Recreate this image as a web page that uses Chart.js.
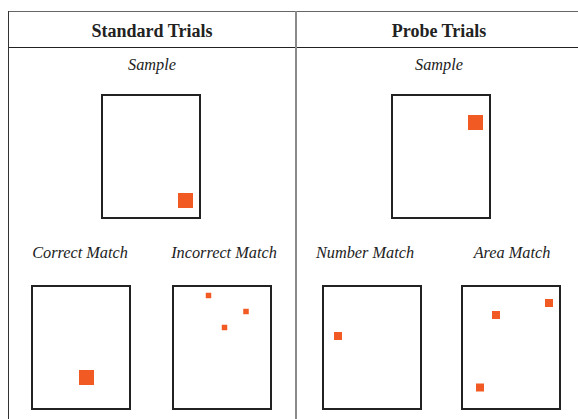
<!DOCTYPE html>
<html>
<head>
<meta charset="utf-8">
<script src="https://cdn.jsdelivr.net/npm/chart.js@4"></script>
<style>
  body { margin: 0; width: 578px; height: 419px; background: #fff; overflow: hidden; position: relative; font-family: "Liberation Serif", "DejaVu Serif", serif; color: #222; }
  .line { position: absolute; }
  .head { position: absolute; font-weight: bold; font-size: 18px; line-height: 18px; text-align: center; white-space: nowrap; }
  .lbl { position: absolute; font-style: italic; font-size: 16.3px; line-height: 16.3px; text-align: center; white-space: nowrap; }
  canvas.panel { position: absolute; }
</style>
</head>
<body>

<!-- table rules -->
<div class="line" style="left:8px;top:11px;width:570px;height:1px;background:#666"></div>
<div class="line" style="left:8px;top:47px;width:570px;height:1px;background:#222"></div>
<div class="line" style="left:8px;top:11px;width:1px;height:408px;background:#333"></div>
<div class="line" style="left:295px;top:11px;width:2px;height:408px;background:#8a8a8a"></div>

<div class="head" style="left:52px;top:22px;width:200px">Standard Trials</div>
<div class="head" style="left:339px;top:22px;width:200px">Probe Trials</div>

<div id="labels"></div>

<canvas class="panel" id="p0" width="100" height="125" style="left:101px;top:94px"></canvas>
<canvas class="panel" id="p1" width="100" height="125" style="left:391px;top:94px"></canvas>
<canvas class="panel" id="p2" width="100" height="125" style="left:31px;top:285px"></canvas>
<canvas class="panel" id="p3" width="100" height="125" style="left:172px;top:285px"></canvas>
<canvas class="panel" id="p4" width="100" height="125" style="left:322px;top:285px"></canvas>
<canvas class="panel" id="p5" width="100" height="125" style="left:461px;top:285px"></canvas>

<script>
// panel titles, in panel order
const panelNames = ['Sample', 'Sample', 'Correct Match', 'Incorrect Match', 'Number Match', 'Area Match'];

// square centres inside each 100 x 125 stimulus card (y measured from top)
const dotX = [[84.5], [84.5], [55.5], [36.5, 74, 52.5], [16], [88, 35, 19]];
const dotY = [[106.5], [28.5], [92.5], [10.5, 26.5, 42.5], [51], [18, 30, 102.5]];
// square side lengths, same units
const dotSide = [[15], [15], [15], [5.5, 5.5, 5.5], [8], [8, 8, 8]];

// label placement (centre x, top y) – layout only
const labelPos = [[152, 57], [439, 57], [80, 245], [224, 245], [365, 245], [512, 245]];

const labelBox = document.getElementById('labels');
panelNames.forEach((name, i) => {
    const d = document.createElement('div');
    d.className = 'lbl';
    d.style.left = (labelPos[i][0] - 80) + 'px';
    d.style.top = labelPos[i][1] + 'px';
    d.style.width = '160px';
    d.textContent = name;
    labelBox.appendChild(d);
});

// draws the card outline round the chart area
const cardFrame = {
    id: 'cardFrame',
    afterDraw(chart) {
        const ctx = chart.ctx;
        ctx.save();
        ctx.strokeStyle = '#222';
        ctx.lineWidth = 2;
        ctx.strokeRect(1, 1, chart.width - 2, chart.height - 2);
        ctx.restore();
    }
};

panelNames.forEach((name, i) => {
    const pts = dotX[i].map((x, k) => ({ x: x, y: dotY[i][k], side: dotSide[i][k] }));
    new Chart(document.getElementById('p' + i), {
        type: 'scatter',
        data: {
            datasets: [{
                label: name,
                data: pts,
                pointStyle: 'rect',
                backgroundColor: '#f15a22',
                borderWidth: 0,
                pointBorderWidth: 0,
                // rect point side = radius * sqrt(2); scale units are 1px here
                pointRadius: (c) => c.raw ? c.raw.side / Math.SQRT2 : 0,
                pointHoverRadius: (c) => c.raw ? c.raw.side / Math.SQRT2 : 0
            }]
        },
        options: {
            responsive: false,
            animation: false,
            events: [],
            layout: { padding: 0, autoPadding: false },
            plugins: { legend: { display: false }, tooltip: { enabled: false } },
            scales: {
                x: { type: 'linear', min: 0, max: 100, display: false },
                y: { type: 'linear', min: 0, max: 125, reverse: true, display: false }
            }
        },
        plugins: [cardFrame]
    });
});
</script>
</body>
</html>
